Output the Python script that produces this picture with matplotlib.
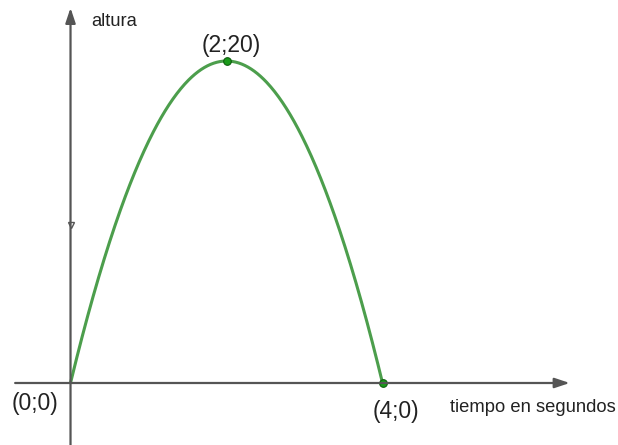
import numpy as np
import matplotlib.pyplot as plt

# points: (tiempo, altura)
t_pts = [0, 2, 4]
h_pts = [0, 20, 0]
pt_labels = ["(0;0)", "(2;20)", "(4;0)"]
x_label = "tiempo en segundos"
y_label = "altura"


def main():
    plt.rcParams["font.family"] = ["Liberation Sans", "DejaVu Sans"]

    fig = plt.figure(figsize=(6.18, 4.45), dpi=100)
    ax = fig.add_axes([0, 0, 1, 1])
    ax.set_xlim(-0.904, 7.019)
    ax.set_ylim(-3.851, 23.789)
    ax.axis("off")

    axis_col = "#555555"
    # axes with arrow heads
    ax.annotate("", xy=(6.40, 0), xytext=(-0.71, 0),
                arrowprops=dict(arrowstyle="-|>,head_length=0.9,head_width=0.3",
                                color=axis_col, lw=1.6, shrinkA=0, shrinkB=0))
    ax.annotate("", xy=(0, 23.3), xytext=(0, -3.85),
                arrowprops=dict(arrowstyle="-|>,head_length=0.9,head_width=0.3",
                                color=axis_col, lw=1.6, shrinkA=0, shrinkB=0))
    # small chevron on the y axis
    ax.plot([0], [9.8], marker="v", ms=5, mfc="white", mec=axis_col, mew=1.0)

    # parabola through the three labelled points
    coef = np.polyfit(t_pts, h_pts, 2)
    t = np.linspace(t_pts[0], t_pts[-1], 400)
    ax.plot(t, np.polyval(coef, t), color="#4c9e4c", lw=2.2, solid_capstyle="butt")

    ax.plot(t_pts[1:], h_pts[1:], "o", ms=5.5, color="#1a9a1a", mec="#0d5e0d", mew=0.8)

    txt_col = "#222222"
    ax.text(-0.45, -1.25, pt_labels[0], fontsize=16.5, color=txt_col, ha="center", va="center")
    ax.text(2.06, 20.95, pt_labels[1], fontsize=16.5, color=txt_col, ha="center", va="center")
    ax.text(4.17, -1.8, pt_labels[2], fontsize=16.5, color=txt_col, ha="center", va="center")
    ax.text(4.87, -1.55, x_label, fontsize=13.2, color=txt_col, ha="left", va="center")
    ax.text(0.26, 22.45, y_label, fontsize=13.2, color=txt_col, ha="left", va="center")

    fig.savefig("out.png", dpi=100, facecolor="white")


if __name__ == "__main__":
    main()
